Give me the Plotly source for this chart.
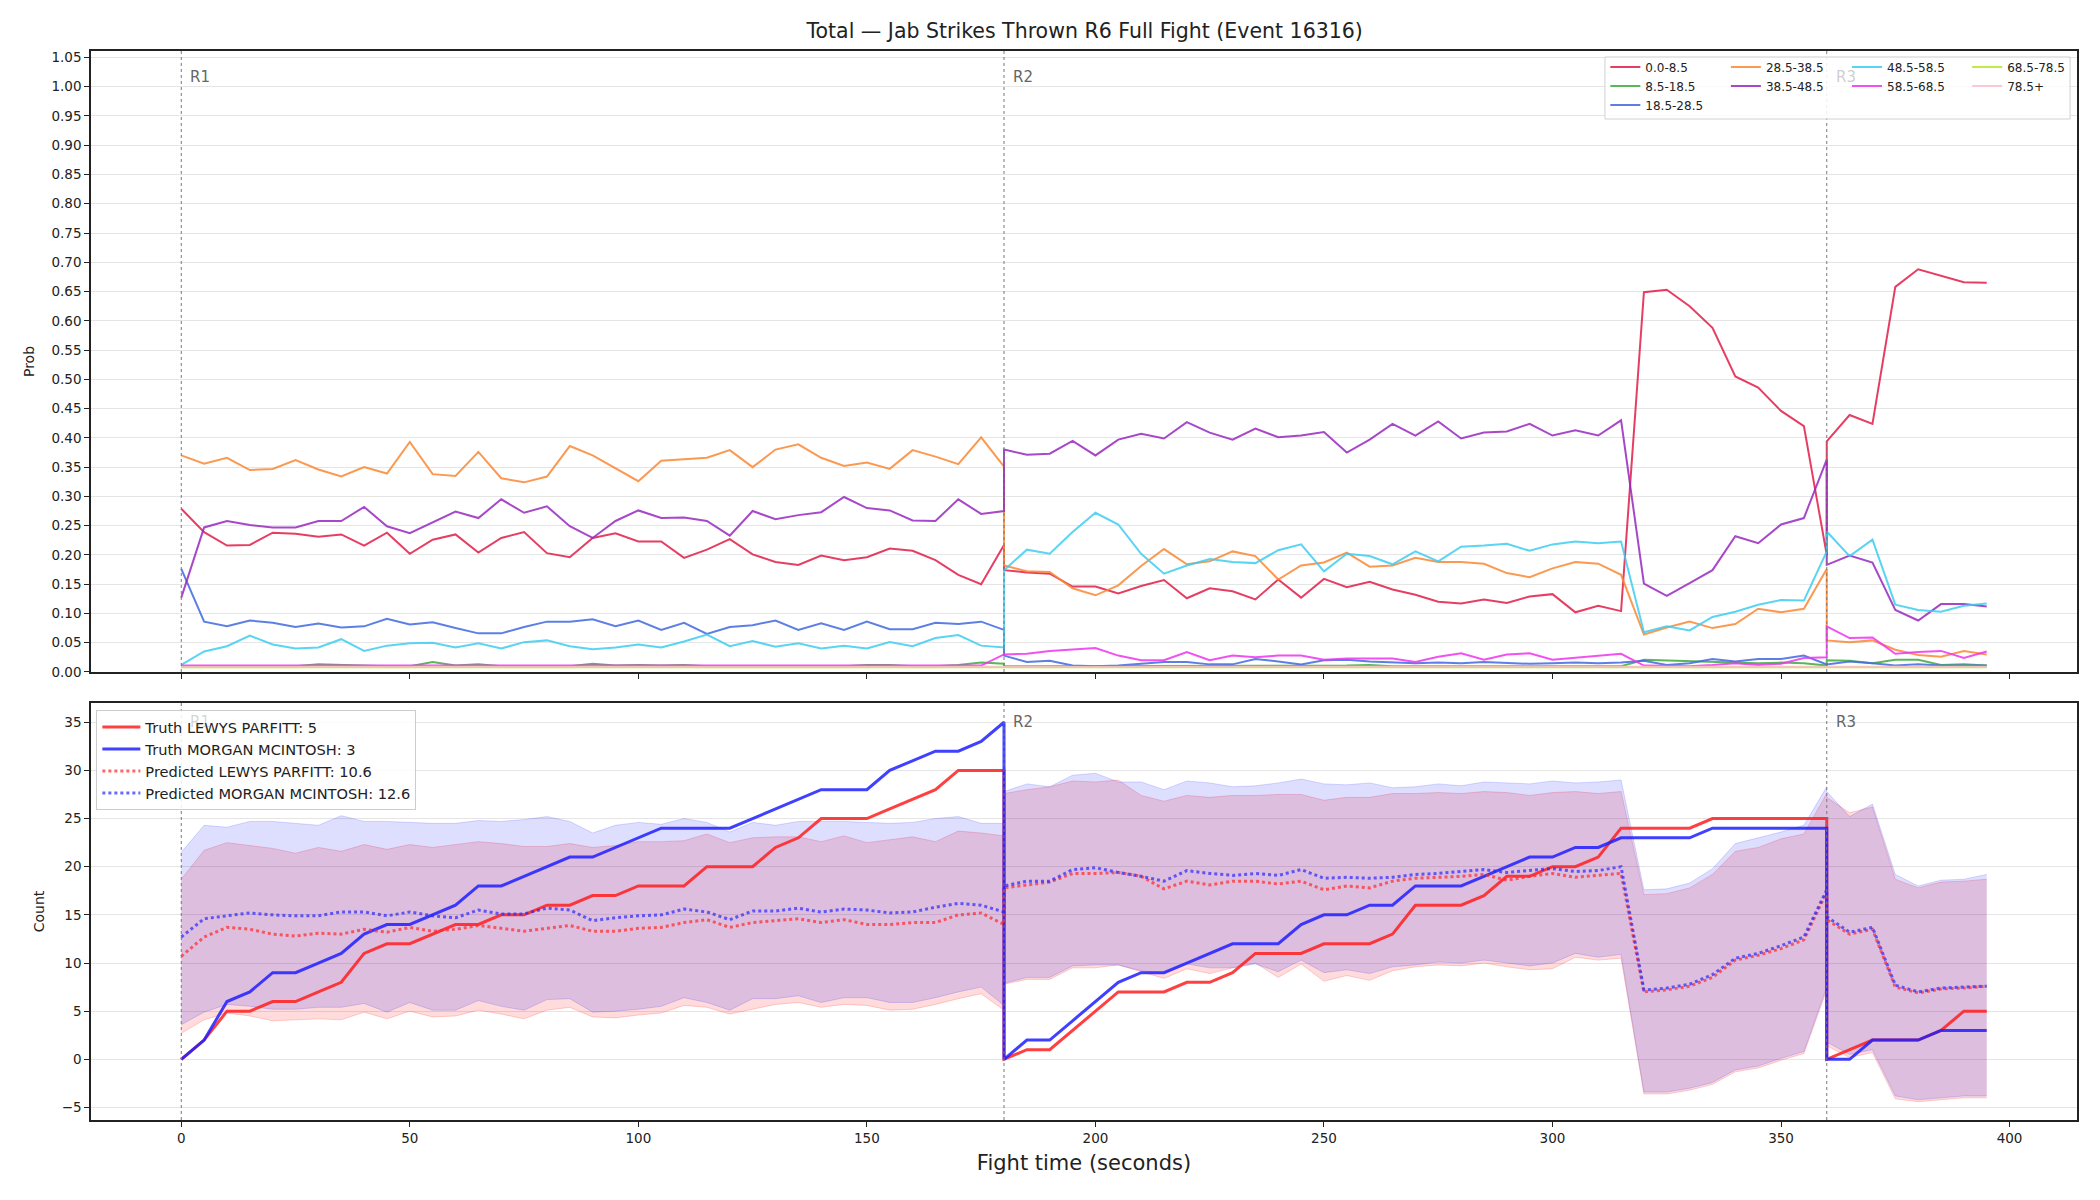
import plotly.graph_objects as go

# ---------------- time grid (seconds) per round ----------------
T_R1 = list(range(0, 181, 5))
T_R2 = list(range(180, 361, 5))
T_R3 = list(range(360, 396, 5))
TIME = T_R1 + T_R2 + T_R3

BIN_LABELS = ["0.0-8.5", "8.5-18.5", "18.5-28.5", "28.5-38.5", "38.5-48.5",
              "48.5-58.5", "58.5-68.5", "68.5-78.5", "78.5+"]
BIN_COLORS = ["rgba(226,28,72,0.85)", "rgba(60,170,60,0.85)", "rgba(65,105,225,0.85)",
              "rgba(250,135,50,0.85)", "rgba(150,40,190,0.85)", "rgba(60,205,240,0.85)",
              "rgba(240,50,240,0.85)", "rgba(180,230,40,0.85)", "rgba(250,190,205,0.85)"]

# ---------------- probabilities per bin (R1 / R2 / R3) ----------------
p_0_85 = [0.279, 0.239, 0.216, 0.217, 0.238, 0.236, 0.231, 0.235, 0.216, 0.238,
          0.202, 0.226, 0.235, 0.204, 0.229, 0.239, 0.203, 0.196, 0.229, 0.237,
          0.223, 0.223, 0.195, 0.209, 0.227, 0.201, 0.188, 0.183, 0.199, 0.191,
          0.196, 0.211, 0.207, 0.191, 0.166, 0.150, 0.217] + \
         [0.174, 0.170, 0.168, 0.146, 0.146, 0.134, 0.147, 0.157, 0.126, 0.143,
          0.138, 0.124, 0.158, 0.127, 0.159, 0.145, 0.154, 0.141, 0.132, 0.120,
          0.117, 0.124, 0.118, 0.129, 0.133, 0.102, 0.113, 0.104, 0.649, 0.653,
          0.625, 0.588, 0.505, 0.486, 0.446, 0.420, 0.200] + \
         [0.394, 0.439, 0.424, 0.658, 0.688, 0.677, 0.666, 0.665]
p_85_185 = [0.010, 0.010, 0.010, 0.010, 0.010, 0.010, 0.013, 0.012, 0.010, 0.010,
            0.010, 0.017, 0.011, 0.013, 0.010, 0.010, 0.010, 0.010, 0.014, 0.011,
            0.012, 0.011, 0.012, 0.010, 0.010, 0.010, 0.010, 0.010, 0.010, 0.010,
            0.012, 0.012, 0.010, 0.010, 0.012, 0.016, 0.014] + \
           [0.010, 0.010, 0.010, 0.010, 0.010, 0.011, 0.010, 0.010, 0.011, 0.010,
            0.010, 0.010, 0.011, 0.010, 0.010, 0.011, 0.012, 0.010, 0.010, 0.010,
            0.010, 0.011, 0.010, 0.010, 0.010, 0.010, 0.010, 0.010, 0.021, 0.020,
            0.018, 0.017, 0.016, 0.015, 0.016, 0.015, 0.011] + \
           [0.020, 0.019, 0.015, 0.021, 0.021, 0.012, 0.013, 0.011]
p_185_285 = [0.176, 0.086, 0.078, 0.088, 0.084, 0.077, 0.083, 0.076, 0.078, 0.091,
             0.081, 0.085, 0.075, 0.066, 0.066, 0.077, 0.086, 0.086, 0.090, 0.078,
             0.088, 0.072, 0.084, 0.065, 0.077, 0.080, 0.088, 0.072, 0.083, 0.072,
             0.086, 0.073, 0.073, 0.084, 0.082, 0.086, 0.072] + \
            [0.028, 0.017, 0.019, 0.011, 0.010, 0.011, 0.014, 0.017, 0.017, 0.013,
             0.013, 0.022, 0.018, 0.013, 0.020, 0.021, 0.018, 0.017, 0.015, 0.016,
             0.015, 0.017, 0.016, 0.014, 0.015, 0.016, 0.015, 0.016, 0.019, 0.012,
             0.015, 0.022, 0.018, 0.022, 0.022, 0.028, 0.013] + \
            [0.013, 0.018, 0.015, 0.011, 0.013, 0.011, 0.011, 0.011]
p_285_385 = [0.370, 0.356, 0.366, 0.345, 0.347, 0.362, 0.346, 0.334, 0.350, 0.339,
             0.393, 0.338, 0.335, 0.376, 0.331, 0.324, 0.334, 0.386, 0.370, 0.348,
             0.326, 0.361, 0.364, 0.366, 0.379, 0.350, 0.380, 0.389, 0.366, 0.352,
             0.358, 0.347, 0.379, 0.368, 0.355, 0.401, 0.351] + \
            [0.182, 0.172, 0.171, 0.143, 0.131, 0.148, 0.181, 0.210, 0.184, 0.189,
             0.206, 0.198, 0.158, 0.182, 0.187, 0.204, 0.180, 0.182, 0.195, 0.188,
             0.188, 0.185, 0.169, 0.162, 0.177, 0.188, 0.185, 0.166, 0.064, 0.076,
             0.086, 0.075, 0.082, 0.108, 0.102, 0.108, 0.176] + \
            [0.054, 0.051, 0.054, 0.038, 0.029, 0.026, 0.036, 0.030]
p_385_485 = [0.127, 0.247, 0.258, 0.251, 0.247, 0.247, 0.258, 0.258, 0.282, 0.249,
             0.237, 0.256, 0.274, 0.263, 0.295, 0.272, 0.283, 0.249, 0.229, 0.258,
             0.276, 0.263, 0.264, 0.258, 0.233, 0.275, 0.261, 0.268, 0.273, 0.299,
             0.280, 0.276, 0.259, 0.258, 0.295, 0.270, 0.275] + \
            [0.380, 0.371, 0.373, 0.395, 0.370, 0.397, 0.407, 0.399, 0.427, 0.409,
             0.397, 0.416, 0.401, 0.404, 0.410, 0.375, 0.397, 0.424, 0.404, 0.428,
             0.399, 0.409, 0.411, 0.424, 0.404, 0.413, 0.404, 0.430, 0.151, 0.130,
             0.152, 0.174, 0.232, 0.220, 0.252, 0.263, 0.363] + \
            [0.183, 0.199, 0.187, 0.106, 0.088, 0.116, 0.116, 0.112]
p_485_585 = [0.012, 0.035, 0.044, 0.062, 0.047, 0.040, 0.042, 0.056, 0.036, 0.045,
             0.049, 0.050, 0.042, 0.049, 0.040, 0.051, 0.054, 0.044, 0.039, 0.042,
             0.047, 0.042, 0.052, 0.064, 0.044, 0.053, 0.043, 0.049, 0.040, 0.045,
             0.040, 0.051, 0.044, 0.058, 0.063, 0.045, 0.042] + \
            [0.174, 0.209, 0.202, 0.239, 0.272, 0.252, 0.202, 0.168, 0.182, 0.193,
             0.188, 0.186, 0.208, 0.218, 0.172, 0.202, 0.198, 0.184, 0.206, 0.189,
             0.214, 0.216, 0.219, 0.207, 0.218, 0.223, 0.220, 0.223, 0.068, 0.078,
             0.071, 0.094, 0.103, 0.115, 0.123, 0.122, 0.206] + \
            [0.240, 0.198, 0.226, 0.115, 0.106, 0.103, 0.113, 0.117]
p_585_685 = [0.011, 0.011, 0.011, 0.011, 0.011, 0.011, 0.011, 0.011, 0.011, 0.011,
             0.011, 0.011, 0.011, 0.011, 0.011, 0.011, 0.011, 0.011, 0.011, 0.011,
             0.011, 0.011, 0.011, 0.011, 0.011, 0.011, 0.011, 0.011, 0.011, 0.011,
             0.011, 0.011, 0.011, 0.011, 0.011, 0.011, 0.030] + \
            [0.030, 0.031, 0.036, 0.039, 0.041, 0.028, 0.020, 0.020, 0.034, 0.020,
             0.028, 0.025, 0.028, 0.028, 0.021, 0.023, 0.023, 0.023, 0.017, 0.026,
             0.032, 0.021, 0.030, 0.032, 0.021, 0.024, 0.028, 0.031, 0.011, 0.010,
             0.010, 0.012, 0.015, 0.012, 0.014, 0.024, 0.025] + \
            [0.078, 0.058, 0.059, 0.031, 0.034, 0.036, 0.024, 0.035]
p_685_785 = [0.008] * 37 + [0.008] * 37 + [0.008] * 8
p_785_up = [0.009] * 37 + [0.009] * 37 + [0.009] * 8
PROBS = [p_0_85, p_85_185, p_185_285, p_285_385, p_385_485,
         p_485_585, p_585_685, p_685_785, p_785_up]

# ---------------- cumulative counts (bottom panel) ----------------
truth_lewys = [0, 2, 5, 5, 6, 6, 7, 8, 11, 12, 12, 13, 14, 14, 15, 15, 16, 16, 17, 17,
               18, 18, 18, 20, 20, 20, 22, 23, 25, 25, 25, 26, 27, 28, 30, 30, 30] + \
              [0, 1, 1, 3, 5, 7, 7, 7, 8, 8, 9, 11, 11, 11, 12, 12, 12, 13, 16, 16,
               16, 17, 19, 19, 20, 20, 21, 24, 24, 24, 24, 25, 25, 25, 25, 25, 25] + \
              [0, 1, 2, 2, 2, 3, 5, 5]
truth_morgan = [0, 2, 6, 7, 9, 9, 10, 11, 13, 14, 14, 15, 16, 18, 18, 19, 20, 21, 21, 22,
                23, 24, 24, 24, 24, 25, 26, 27, 28, 28, 28, 30, 31, 32, 32, 33, 35] + \
               [0, 2, 2, 4, 6, 8, 9, 9, 10, 11, 12, 12, 12, 14, 15, 15, 16, 16, 18, 18,
                18, 19, 20, 21, 21, 22, 22, 23, 23, 23, 23, 24, 24, 24, 24, 24, 24] + \
               [0, 0, 2, 2, 2, 3, 3, 3]
pred_lewys = [10.7, 12.7, 13.7, 13.5, 13.0, 12.8, 13.1, 13.0, 13.5, 13.2,
              13.7, 13.3, 13.5, 13.9, 13.6, 13.3, 13.6, 13.9, 13.3, 13.3,
              13.6, 13.7, 14.2, 14.5, 13.7, 14.2, 14.4, 14.6, 14.2, 14.5,
              14.0, 14.0, 14.2, 14.2, 15.0, 15.2, 14.0] + \
             [17.8, 18.1, 18.4, 19.3, 19.3, 19.4, 19.0, 17.7, 18.5, 18.1,
              18.5, 18.5, 18.2, 18.5, 17.6, 18.0, 17.8, 18.5, 18.8, 18.9,
              19.0, 19.2, 18.6, 19.0, 19.3, 18.9, 19.1, 19.3, 7.0, 7.2,
              7.6, 8.5, 10.3, 10.8, 11.5, 12.4, 17.4] + \
             [14.5, 13.0, 13.5, 7.5, 6.9, 7.3, 7.4, 7.6]
pred_morgan = [12.7, 14.6, 14.9, 15.2, 15.0, 14.9, 14.9, 15.3, 15.3, 14.9,
               15.3, 14.9, 14.7, 15.5, 15.1, 15.1, 15.7, 15.5, 14.4, 14.7,
               14.9, 15.0, 15.6, 15.3, 14.5, 15.4, 15.4, 15.7, 15.3, 15.6,
               15.5, 15.2, 15.3, 15.8, 16.2, 16.0, 15.3] + \
              [18.0, 18.5, 18.5, 19.7, 19.9, 19.4, 19.0, 18.5, 19.6, 19.3,
               19.1, 19.3, 19.1, 19.7, 18.8, 18.9, 18.8, 18.9, 19.2, 19.3,
               19.5, 19.7, 19.4, 19.6, 19.8, 19.5, 19.6, 20.0, 7.2, 7.4,
               7.8, 8.8, 10.5, 11.0, 11.8, 12.7, 17.6] + \
              [14.8, 13.2, 13.7, 7.7, 7.0, 7.4, 7.5, 7.6]
lewys_hi = [18.7, 21.7, 22.5, 22.2, 21.9, 21.4, 22.0, 21.6, 22.3, 21.8,
            22.3, 22.0, 22.3, 22.6, 22.4, 22.1, 22.1, 22.4, 22.0, 22.2,
            22.6, 22.6, 22.7, 23.4, 22.5, 23.0, 23.1, 23.1, 22.6, 23.2,
            22.5, 22.8, 23.1, 22.6, 23.7, 23.5, 23.2] + \
           [27.6, 28.0, 28.3, 28.9, 28.8, 29.0, 27.4, 26.8, 27.4, 27.2,
            27.4, 27.4, 27.5, 27.5, 26.9, 27.2, 27.2, 27.6, 27.6, 27.7,
            27.6, 27.8, 27.7, 27.4, 27.7, 27.8, 27.6, 27.8, 17.1, 17.2,
            17.8, 19.2, 21.6, 22.0, 22.9, 23.4, 27.6] + \
           [27.2, 25.6, 26.2, 18.7, 17.8, 18.4, 18.5, 18.7]
lewys_lo = [2.7, 4.1, 4.8, 4.5, 4.0, 4.1, 4.2, 4.1, 4.9, 4.2,
            5.0, 4.4, 4.5, 5.1, 4.7, 4.2, 5.1, 5.4, 4.4, 4.3,
            4.6, 4.8, 5.6, 5.4, 4.7, 5.2, 5.7, 5.9, 5.4, 5.7,
            5.6, 5.1, 5.2, 5.7, 6.3, 6.8, 5.1] + \
           [7.8, 8.3, 8.3, 9.5, 9.5, 9.8, 9.1, 8.4, 9.4, 8.9,
            9.5, 10.0, 8.5, 9.9, 8.1, 8.7, 8.2, 9.2, 9.6, 9.8,
            9.7, 10.0, 9.6, 9.3, 9.4, 10.6, 10.3, 10.5, -3.6, -3.6,
            -3.2, -2.6, -1.3, -0.9, -0.1, 0.6, 7.2] + \
           [1.4, 0.2, 0.7, -4.1, -4.4, -4.2, -4.0, -4.0]
morgan_hi = [21.5, 24.3, 24.1, 24.7, 24.7, 24.5, 24.3, 25.3, 24.7, 24.7,
             24.6, 24.5, 24.5, 24.8, 24.7, 24.9, 25.2, 24.7, 23.5, 24.3,
             24.6, 24.4, 25.0, 24.6, 23.6, 24.6, 24.3, 24.7, 24.7, 24.7,
             24.6, 24.5, 24.6, 25.0, 25.2, 24.5, 24.5] + \
            [27.8, 28.6, 28.3, 29.5, 29.7, 28.8, 28.8, 28.0, 28.9, 28.7,
             28.3, 28.4, 28.7, 29.1, 28.6, 28.5, 28.7, 28.2, 28.3, 28.6,
             28.4, 28.8, 28.7, 28.6, 28.9, 28.7, 28.8, 29.0, 17.6, 17.7,
             18.3, 19.8, 22.4, 23.0, 23.6, 24.3, 28.3] + \
            [27.8, 25.2, 26.5, 19.2, 18.0, 18.6, 18.7, 19.2]
morgan_lo = [3.6, 4.9, 5.7, 5.5, 5.2, 5.2, 5.4, 5.4, 5.8, 4.9,
             5.9, 5.1, 5.1, 6.1, 5.5, 5.1, 6.2, 6.3, 4.9, 5.0,
             5.2, 5.5, 6.4, 5.9, 5.1, 6.3, 6.3, 6.6, 5.9, 6.4,
             6.4, 5.9, 5.9, 6.4, 7.0, 7.5, 5.6] + \
            [7.9, 8.5, 8.5, 9.7, 9.8, 9.8, 9.2, 8.9, 9.9, 9.5,
             9.5, 9.9, 9.1, 10.3, 9.0, 9.3, 8.9, 9.6, 9.8, 10.1,
             10.0, 10.3, 10.0, 9.7, 10.0, 11.0, 10.6, 10.9, -3.4, -3.4,
             -3.0, -2.4, -1.1, -0.7, 0.1, 0.8, 7.5] + \
            [1.8, 0.5, 1.0, -3.8, -4.2, -4.0, -3.8, -3.8]

ROUND_STARTS = [0, 180, 360]
ROUND_NAMES = ["R1", "R2", "R3"]
X_TICKS = [0, 50, 100, 150, 200, 250, 300, 350, 400]

FONT = "DejaVu Sans"
fig = go.Figure()

# ---------- top panel: probability per bin ----------
legend_of_bin = ["legend", "legend", "legend", "legend2", "legend2",
                 "legend3", "legend3", "legend4", "legend4"]
for name, col, vals, lg in zip(BIN_LABELS, BIN_COLORS, PROBS, legend_of_bin):
    fig.add_trace(go.Scatter(x=TIME, y=vals, mode="lines", name=name,
                             line=dict(color=col, width=2), legend=lg,
                             xaxis="x", yaxis="y"))

# ---------- bottom panel: bands, truth, predicted ----------
fig.add_trace(go.Scatter(x=TIME, y=lewys_lo, mode="lines", showlegend=False,
                         line=dict(color="rgba(255,0,0,0.18)", width=1),
                         xaxis="x2", yaxis="y2", hoverinfo="skip"))
fig.add_trace(go.Scatter(x=TIME, y=lewys_hi, mode="lines", showlegend=False, fill="tonexty",
                         fillcolor="rgba(255,0,0,0.14)",
                         line=dict(color="rgba(255,0,0,0.18)", width=1),
                         xaxis="x2", yaxis="y2", hoverinfo="skip"))
fig.add_trace(go.Scatter(x=TIME, y=morgan_lo, mode="lines", showlegend=False,
                         line=dict(color="rgba(0,0,255,0.15)", width=1),
                         xaxis="x2", yaxis="y2", hoverinfo="skip"))
fig.add_trace(go.Scatter(x=TIME, y=morgan_hi, mode="lines", showlegend=False, fill="tonexty",
                         fillcolor="rgba(0,0,255,0.13)",
                         line=dict(color="rgba(0,0,255,0.15)", width=1),
                         xaxis="x2", yaxis="y2", hoverinfo="skip"))

fig.add_trace(go.Scatter(x=TIME, y=truth_lewys, mode="lines",
                         name=f"Truth LEWYS PARFITT: {truth_lewys[-1]}",
                         line=dict(color="rgba(255,30,30,0.85)", width=3),
                         legend="legend5", xaxis="x2", yaxis="y2"))
fig.add_trace(go.Scatter(x=TIME, y=truth_morgan, mode="lines",
                         name=f"Truth MORGAN MCINTOSH: {truth_morgan[-1]}",
                         line=dict(color="rgba(30,30,255,0.85)", width=3),
                         legend="legend5", xaxis="x2", yaxis="y2"))
fig.add_trace(go.Scatter(x=TIME, y=pred_lewys, mode="lines",
                         name="Predicted LEWYS PARFITT: 10.6",
                         line=dict(color="rgba(255,40,40,0.7)", width=3, dash="dot"),
                         legend="legend5", xaxis="x2", yaxis="y2"))
fig.add_trace(go.Scatter(x=TIME, y=pred_morgan, mode="lines",
                         name="Predicted MORGAN MCINTOSH: 12.6",
                         line=dict(color="rgba(40,40,255,0.7)", width=3, dash="dot"),
                         legend="legend5", xaxis="x2", yaxis="y2"))

# ---------- round markers ----------
shapes = []
annotations = []
for rs, rn in zip(ROUND_STARTS, ROUND_NAMES):
    for xr, yr in (("x", "y domain"), ("x2", "y2 domain")):
        shapes.append(dict(type="line", xref=xr, yref=yr, x0=rs, x1=rs, y0=0, y1=1,
                           line=dict(color="#777777", width=1, dash="dot"), layer="above"))
    top_col = "rgba(110,110,110,0.35)" if rn == "R3" else "#666666"
    annotations.append(dict(x=rs, y=1.016, xref="x", yref="y", text=rn, showarrow=False,
                            xanchor="left", yanchor="middle", xshift=7,
                            font=dict(family=FONT, size=15, color=top_col)))
    bot_col = "rgba(110,110,110,0.3)" if rn == "R1" else "#666666"
    annotations.append(dict(x=rs, y=35, xref="x2", yref="y2", text=rn, showarrow=False,
                            xanchor="left", yanchor="middle", xshift=7,
                            font=dict(family=FONT, size=15, color=bot_col)))

# frame for the 4-column legend of the top panel
shapes.append(dict(type="rect", xref="paper", yref="paper",
                   x0=0.7623, x1=0.9965, y0=0.9364, y1=0.9944,
                   fillcolor="rgba(255,255,255,0.85)",
                   line=dict(color="#d0d0d0", width=1), layer="above"))

axis_common = dict(showline=True, linecolor="#222222", linewidth=1.5, mirror=True,
                   ticks="outside", ticklen=5, tickwidth=1.2, tickcolor="#222222",
                   tickfont=dict(family=FONT, size=13.5, color="#222222"),
                   zeroline=False)

top_legend = dict(bgcolor="rgba(0,0,0,0)", borderwidth=0, xanchor="left", yanchor="top",
                  y=0.9985, font=dict(family=FONT, size=12, color="#222222"),
                  tracegroupgap=0, itemwidth=30, traceorder="normal")

fig.update_layout(
    width=2100, height=1200,
    margin=dict(l=91, r=23, t=51, b=80),
    paper_bgcolor="white", plot_bgcolor="white",
    font=dict(family=FONT, color="#222222"),
    title=dict(text="Total \u2014 Jab Strikes Thrown R6 Full Fight (Event 16316)",
               x=0.5165, xanchor="center", y=0.974, yanchor="middle",
               font=dict(family=FONT, size=20.5, color="#222222")),
    xaxis=dict(domain=[0, 1], anchor="y", range=[-19.75, 414.75], matches="x2",
               showticklabels=False, tickvals=X_TICKS, showgrid=False, **axis_common),
    yaxis=dict(domain=[0.4191, 1], anchor="x", range=[0, 1.061], dtick=0.05, tick0=0,
               tickformat=".2f", showgrid=True, gridcolor="#e5e5e5", gridwidth=1,
               title=dict(text="Prob", font=dict(family=FONT, size=14), standoff=14),
               **axis_common),
    xaxis2=dict(domain=[0, 1], anchor="y2", range=[-19.75, 414.75], tickvals=X_TICKS,
                showgrid=False,
                title=dict(text="Fight time (seconds)", font=dict(family=FONT, size=21),
                           standoff=10),
                **axis_common),
    yaxis2=dict(domain=[0, 0.3901], anchor="x2", range=[-6.3, 37.0], dtick=5, tick0=0,
                showgrid=True, gridcolor="#e5e5e5", gridwidth=1,
                title=dict(text="Count", font=dict(family=FONT, size=14), standoff=14),
                **axis_common),
    legend=dict(x=0.7625, **top_legend),
    legend2=dict(x=0.8232, **top_legend),
    legend3=dict(x=0.8842, **top_legend),
    legend4=dict(x=0.9447, **top_legend),
    legend5=dict(x=0.0027, y=0.3835, xanchor="left", yanchor="top",
                 bgcolor="rgba(255,255,255,0.85)", bordercolor="#cccccc", borderwidth=1,
                 font=dict(family=FONT, size=14.6, color="#222222"),
                 tracegroupgap=0, itemwidth=38, traceorder="normal"),
    shapes=shapes,
    annotations=annotations,
    showlegend=True,
)

fig.write_html("out.html")
